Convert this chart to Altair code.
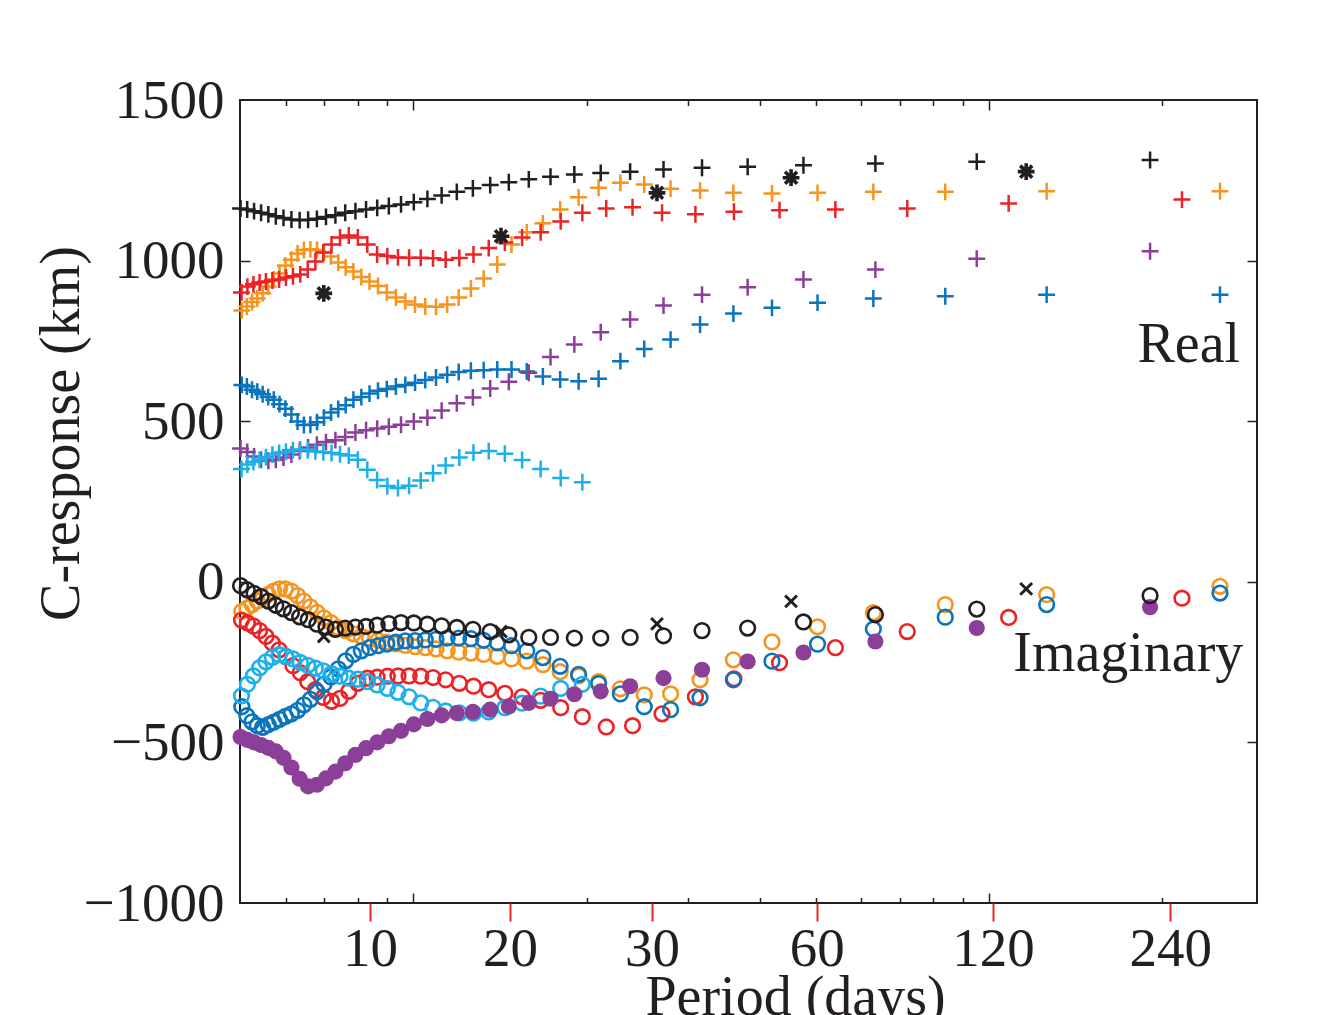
import altair as alt
import pandas as pd

# ---------------- periods (days) ----------------
PERIOD_A = [190.4, 95.2, 63.47, 47.6, 38.08, 31.73, 27.2, 23.8, 21.16, 19.04,
            17.31, 15.87, 14.65, 13.6, 12.69, 11.9, 11.2, 10.58, 10.02, 9.52,
            9.067, 8.655, 8.278, 7.933, 7.616, 7.323, 7.052, 6.8, 6.566, 6.347,
            6.142, 5.95, 5.77, 5.6, 5.44, 5.289, 5.146, 5.011]
PERIOD_B = [251.8, 125.9, 83.93, 62.95, 50.36, 41.97, 35.97, 31.48, 27.98, 25.18,
            22.89, 20.98, 19.37, 17.99, 16.79, 15.74, 14.81, 13.99, 13.25, 12.59,
            11.99, 11.45, 10.95, 10.49, 10.07, 9.685, 9.326, 8.993, 8.683, 8.393,
            8.123, 7.869, 7.63, 7.406, 7.194, 6.994, 6.805, 6.626, 6.456, 6.295,
            6.141, 5.995, 5.856, 5.723, 5.596, 5.474, 5.357, 5.246, 5.139, 5.036]
PERIOD_C = [216.3, 108.15, 72.1, 54.08, 43.26, 36.05, 30.9, 27.04, 24.03, 21.63,
            19.66, 18.03, 16.64, 15.45, 14.42, 13.52, 12.72, 12.02, 11.38, 10.82,
            10.3, 9.832, 9.404, 9.013, 8.652, 8.319, 8.011, 7.725, 7.459, 7.21,
            6.977, 6.759, 6.555, 6.362, 6.18, 6.008, 5.846, 5.692, 5.546, 5.408,
            5.276, 5.15, 5.03]
PERIOD_LB = [19.66, 18.03, 16.64, 15.45, 14.42, 13.52, 12.72, 12.02, 11.38, 10.82,
             10.3, 9.832, 9.404, 9.013, 8.652, 8.319, 8.011, 7.725, 7.459, 7.21,
             6.977, 6.759, 6.555, 6.362, 6.18, 6.008, 5.846, 5.692, 5.546, 5.408,
             5.276, 5.15, 5.03]
PERIOD_STAR = [6.99, 14.2, 26.5, 45.3, 116.0]

# ---------------- real parts (km) ----------------
BLACK_RE = [1313, 1308, 1302, 1297, 1292, 1289, 1284, 1277, 1273, 1268, 1261, 1253,
            1244, 1235, 1225, 1214, 1203, 1192, 1182, 1175, 1170, 1164, 1159, 1154,
            1149, 1141, 1136, 1130, 1127, 1126, 1128, 1133, 1138, 1144, 1149, 1154,
            1159, 1162]
ORANGE_RE = [1216, 1216, 1214, 1214, 1211, 1209, 1211, 1218, 1224, 1237, 1242, 1227,
             1197, 1159, 1116, 1088, 1050, 988, 944, 913, 885, 863, 856, 857, 863,
             873, 885, 901, 921, 935, 949, 966, 979, 994, 1013, 1025, 1033, 1035,
             1033, 1022, 1003, 985, 960, 941, 919, 898, 882, 871, 857, 845]
RED_RE = [1190, 1178, 1162, 1159, 1157, 1152, 1144, 1149, 1166, 1162, 1149, 1122,
          1088, 1072, 1056, 1039, 1019, 1008, 1003, 1007, 1009, 1009, 1010, 1014,
          1019, 1050, 1072, 1078, 1072, 1050, 1025, 997, 972, 957, 951, 947, 941,
          938, 935, 932, 926, 919, 901]
BLUE_RE = [894, 894, 889, 882, 869, 853, 835, 801, 754, 725, 687, 632, 624, 630, 639,
           655, 661, 661, 659, 657, 653, 645, 636, 628, 620, 613, 608, 600, 595, 586,
           575, 567, 550, 538, 527, 511, 497, 489, 488, 499, 521, 539, 553, 567, 575,
           584, 592, 598, 608, 613]
PURPLE_RE = [1029, 1006, 972, 941, 917, 894, 860, 817, 777, 739, 700, 651, 623, 602,
             574, 556, 533, 511, 499, 489, 483, 477, 472, 465, 451, 441, 435, 427, 418,
             407, 396, 387, 380, 377, 380, 390, 404, 415]
LBLUE_RE = [310, 323, 351, 379, 399, 407, 402, 387, 362, 338, 315, 299, 292, 298, 317,
            349, 380, 393, 397, 401, 403, 406, 410, 412, 410, 405, 401, 396, 388, 380,
            373, 365, 351]
STAR_RE = [898, 1076, 1211, 1258, 1277]

# ---------------- imaginary parts (km) ----------------
BLACK_IM = [-43, -85, -102, -125, -144, -152, -168, -173, -175, -175, -173, -173, -165,
            -155, -148, -142, -137, -132, -128, -127, -130, -135, -139, -141, -144,
            -148, -141, -132, -118, -109, -96, -84, -73, -60, -46, -36, -25, -12]
ORANGE_IM = [-14, -40, -71, -96, -140, -187, -243, -305, -349, -352, -333, -311, -293,
             -280, -258, -247, -240, -232, -226, -222, -219, -215, -209, -205, -202,
             -198, -193, -188, -182, -176, -170, -162, -152, -143, -127, -112, -95,
             -78, -60, -43, -29, -22, -22, -29, -39, -50, -60, -71, -82, -92]
RED_IM = [-51, -111, -155, -205, -252, -302, -358, -411, -448, -452, -420, -392, -369,
          -358, -347, -336, -325, -316, -305, -298, -294, -293, -293, -294, -297, -300,
          -316, -341, -363, -372, -360, -336, -311, -283, -261, -233, -212, -191, -170,
          -152, -138, -128, -119]
BLUE_IM = [-35, -71, -110, -147, -194, -247, -305, -361, -398, -389, -349, -317, -288,
           -263, -236, -215, -199, -190, -182, -177, -175, -175, -179, -181, -183, -184,
           -188, -194, -199, -205, -215, -226, -246, -271, -296, -319, -342, -366, -383,
           -400, -411, -419, -428, -437, -445, -453, -448, -436, -417, -389]
PURPLE_IM = [-79, -144, -186, -220, -248, -274, -300, -325, -341, -350, -364, -377,
             -388, -398, -405, -409, -416, -427, -444, -464, -481, -500, -518, -539,
             -565, -591, -612, -632, -637, -613, -578, -548, -528, -517, -508, -500,
             -492, -483]
LBLUE_IM = [-319, -332, -356, -378, -392, -405, -409, -408, -402, -391, -377, -358, -344,
            -332, -321, -311, -303, -300, -294, -286, -277, -269, -260, -251, -240, -232,
            -227, -235, -249, -268, -293, -319, -355]
CROSS_IM = [-170, -155, -131, -61, -22]

# ---------------- text and ticks ----------------
ANNOT_TEXT = ["Real", "Imaginary"]
ANNOT_PERIOD = [272.9, 276.5]
ANNOT_VALUE = [683, -279]
RED_TICKS = [8.41, 14.72, 25.98, 50.2, 101.6, 206.3]
MAJOR_TICKS = [10, 100]
MINOR_TICKS = [6, 7, 8, 9, 20, 30, 40, 50, 60, 70, 80, 90, 200]
Y_LABELS = [-1000, -500, 0, 500, 1000, 1500]
Y_INNER = [-500, 0, 500, 1000]

FONT = "Liberation Serif"
INK = "#231f20"
ORANGE = "#f7941e"
RED = "#ec2227"
BLUE = "#0a74be"
PURPLE = "#8b3f98"
LBLUE = "#1cb0ea"

PLUS = "M-1,0L1,0M0,-1L0,1"
XMARK = "M-1,-1L1,1M-1,1L1,-1"
STAR = "M-1,0L1,0M0,-1L0,1M-0.72,-0.72L0.72,0.72M-0.72,0.72L0.72,-0.72"

X_SCALE = alt.Scale(type="log", domain=[5, 292], nice=False)
Y_SCALE = alt.Scale(domain=[-1000, 1500], nice=False, zero=False)


def frame(periods, values):
    return pd.DataFrame({"period": periods, "value": values})


def tick_axis(orient, values, size, width=1.5, color=INK):
    return alt.Axis(orient=orient, values=values, offset=-size, tickSize=size,
                    tickWidth=width, tickColor=color, labels=False, domain=False,
                    grid=False, title=None)


x_main = alt.Axis(orient="bottom", values=RED_TICKS, tickSize=18, tickWidth=2,
                  tickColor=RED, labelFontSize=55, labelPadding=44,
                  labelBaseline="alphabetic", labelOverlap=False, labelFlush=False,
                  labelExpr=("datum.value < 10 ? '10' : datum.value < 20 ? '20' : "
                             "datum.value < 40 ? '30' : datum.value < 80 ? '60' : "
                             "datum.value < 150 ? '120' : '240'"),
                  title="Period (days)", titleFontSize=56, titleX=555, titleY=111,
                  titleBaseline="alphabetic", titleAlign="center", domain=False,
                  grid=False)
y_main = alt.Axis(orient="left", values=Y_LABELS, format="d", ticks=False,
                  labelFontSize=55, labelPadding=16, labelOverlap=False,
                  labelFlush=False, title="C-response (km)", titleFontSize=56,
                  titleX=-162, titleY=333, titleAngle=270, titleBaseline="alphabetic",
                  titleAlign="center", domain=False, grid=False)

x_axes = [x_main,
          tick_axis("bottom", MAJOR_TICKS, 10),
          tick_axis("bottom", MINOR_TICKS, 5.5),
          tick_axis("top", MAJOR_TICKS, 10),
          tick_axis("top", MINOR_TICKS, 5.5)]
y_axes = [y_main,
          tick_axis("left", Y_INNER, 10),
          tick_axis("right", Y_INNER, 10)]


def point_layer(df, color, shape, size, stroke=2.5, filled=False, idx=None):
    xa = x_axes[idx] if idx is not None and idx < len(x_axes) else None
    ya = y_axes[idx] if idx is not None and idx < len(y_axes) else None
    if filled:
        mk = alt.Chart(df).mark_point(shape=shape, filled=True, size=size,
                                      color=color, opacity=1, strokeWidth=0)
    else:
        mk = alt.Chart(df).mark_point(shape=shape, filled=False, size=size,
                                      color=color, opacity=1, strokeWidth=stroke)
    return mk.encode(
        x=alt.X("period:Q", scale=X_SCALE, axis=xa),
        y=alt.Y("value:Q", scale=Y_SCALE, axis=ya),
    )


CIRC = 215
PLUS_SIZE = 285

layers = [
    point_layer(frame(PERIOD_B, ORANGE_RE), ORANGE, PLUS, PLUS_SIZE, idx=0),
    point_layer(frame(PERIOD_C, RED_RE), RED, PLUS, PLUS_SIZE, idx=1),
    point_layer(frame(PERIOD_B, BLUE_RE), BLUE, PLUS, PLUS_SIZE, idx=2),
    point_layer(frame(PERIOD_A, PURPLE_RE), PURPLE, PLUS, PLUS_SIZE, idx=3),
    point_layer(frame(PERIOD_LB, LBLUE_RE), LBLUE, PLUS, PLUS_SIZE, idx=4),
    point_layer(frame(PERIOD_A, BLACK_RE), INK, PLUS, PLUS_SIZE),
    point_layer(frame(PERIOD_STAR, STAR_RE), INK, STAR, 280, stroke=3.6),
    point_layer(frame(PERIOD_B, ORANGE_IM), ORANGE, "circle", CIRC, stroke=2.6),
    point_layer(frame(PERIOD_C, RED_IM), RED, "circle", CIRC, stroke=2.6),
    point_layer(frame(PERIOD_B, BLUE_IM), BLUE, "circle", CIRC, stroke=2.6),
    point_layer(frame(PERIOD_LB, LBLUE_IM), LBLUE, "circle", CIRC, stroke=2.6),
    point_layer(frame(PERIOD_A, PURPLE_IM), PURPLE, "circle", 260, filled=True),
    point_layer(frame(PERIOD_A, BLACK_IM), INK, "circle", CIRC, stroke=2.6),
    point_layer(frame(PERIOD_STAR, CROSS_IM), INK, XMARK, 140, stroke=3),
]

annot = alt.Chart(pd.DataFrame({"period": ANNOT_PERIOD, "value": ANNOT_VALUE,
                                "label": ANNOT_TEXT})).mark_text(
    font=FONT, fontSize=56, align="right", baseline="alphabetic", color=INK
).encode(
    x=alt.X("period:Q", scale=X_SCALE, axis=None),
    y=alt.Y("value:Q", scale=Y_SCALE, axis=None),
    text="label:N",
)

chart = alt.layer(*layers, annot).resolve_axis(
    x="independent", y="independent"
).properties(
    width=1017, height=803,
    autosize=alt.AutoSizeParams(type="none"),
    padding={"left": 232, "top": 92, "right": 73, "bottom": 112},
    background="white",
).configure_view(
    stroke=INK, strokeWidth=2, fill="white"
).configure_axis(
    labelFont=FONT, titleFont=FONT, labelColor=INK, titleColor=INK,
    titleFontWeight="normal", labelFontWeight="normal",
)

chart.save("out.html", embed_options={"renderer": "svg", "actions": False})
